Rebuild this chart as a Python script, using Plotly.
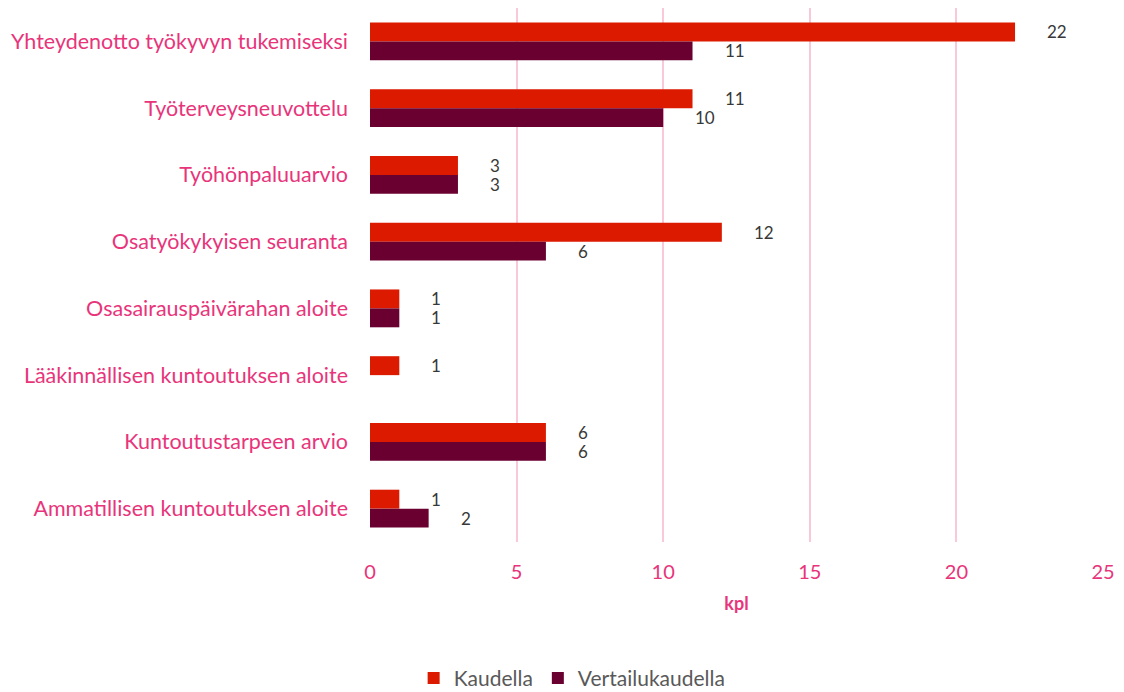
import plotly.graph_objects as go

categories = [
    "Yhteydenotto työkyvyn tukemiseksi",
    "Työterveysneuvottelu",
    "Työhönpaluuarvio",
    "Osatyökykyisen seuranta",
    "Osasairauspäivärahan aloite",
    "Lääkinnällisen kuntoutuksen aloite",
    "Kuntoutustarpeen arvio",
    "Ammatillisen kuntoutuksen aloite",
]
kaudella = [22, 11, 3, 12, 1, 1, 6, 1]
vertailukaudella = [11, 10, 3, 6, 1, 0, 6, 2]
series_names = ["Kaudella", "Vertailukaudella"]
colors = ["#DC1A00", "#6A0030"]

pink = "#E8347A"
font_family = "Lato, 'Open Sans', sans-serif"

fig = go.Figure()
for name, vals, col in zip(series_names, [kaudella, vertailukaudella], colors):
    fig.add_trace(go.Bar(
        y=categories, x=vals, name=name, orientation="h",
        marker=dict(color=col, line=dict(width=0)),
    ))

annotations = []
for vals, shift in [(kaudella, 9.5), (vertailukaudella, -9.5)]:
    for c, v in zip(categories, vals):
        if v == 0:
            continue
        annotations.append(dict(
            x=v, y=c, xref="x", yref="y", text=str(v), showarrow=False,
            xanchor="left", yanchor="middle", xshift=30, yshift=shift,
            font=dict(size=17, color="#383838", family=font_family),
        ))

fig.update_layout(
    width=1116, height=684,
    barmode="group", bargap=0.433, bargroupgap=0,
    plot_bgcolor="white", paper_bgcolor="white",
    margin=dict(l=362, r=21, t=0, b=150, autoexpand=False),
    font=dict(family=font_family, color=pink, size=20),
    xaxis=dict(
        range=[0, 25], dtick=5, showgrid=True, gridcolor="#F9C9DA", gridwidth=2,
        zeroline=False, showline=False, ticks="", automargin=False,
        tickfont=dict(size=20, color=pink), ticklabelstandoff=16,
        title=dict(text="<b>kpl</b>", font=dict(size=18, color=pink), standoff=15),
    ),
    yaxis=dict(
        autorange="reversed", showgrid=False, zeroline=False, ticks="",
        automargin=False, ticklabelstandoff=21,
        tickfont=dict(size=21.5, color=pink),
    ),
    legend=dict(
        orientation="h", xref="container", yref="container",
        x=0.5055, xanchor="center", y=0.02, yanchor="middle",
        font=dict(size=21, color="#595959"), traceorder="normal",
    ),
    annotations=annotations,
    showlegend=True,
)

fig.write_html("out.html")
